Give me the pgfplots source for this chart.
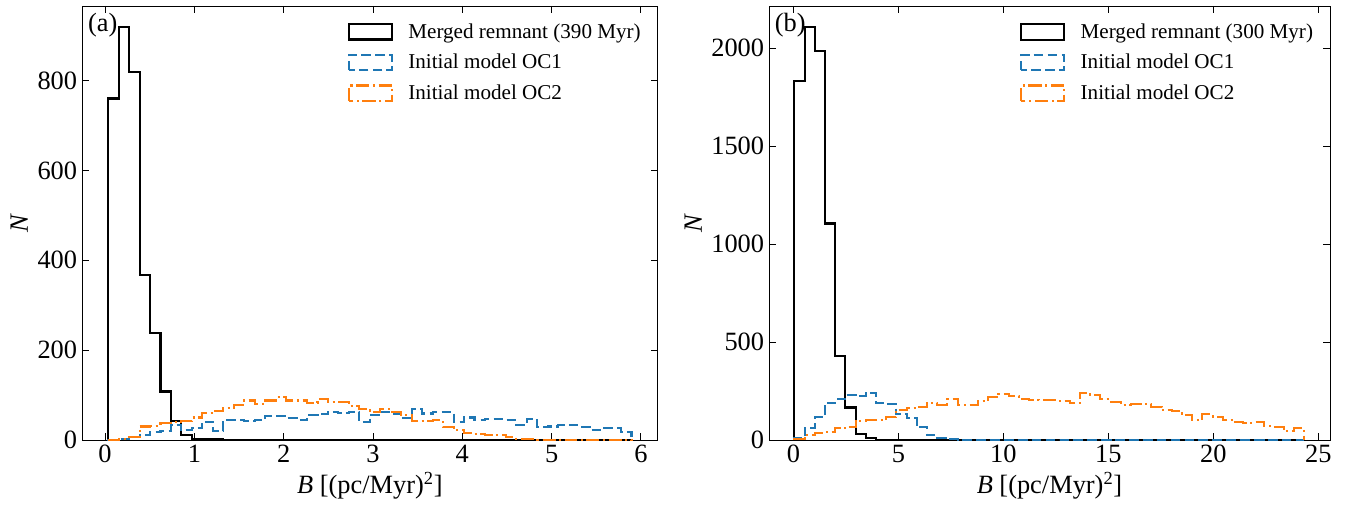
\documentclass[border=0pt]{standalone}
\usepackage{fontspec}
\setmainfont{Liberation Serif}
\usepackage{pgfplots}
\usepackage{pgfplotstable}
\pgfplotsset{compat=1.18}
\definecolor{tabblue}{HTML}{1F77B4}
\definecolor{taborange}{HTML}{FF7F0E}

\pgfplotstableread{
x black blue orange
0.035 0 0 0
0.035 760 1 0
0.152 920 3 2
0.269 820 7 7
0.387 367 11 30
0.504 238 18 32
0.621 108 20 38
0.738 43 33 40
0.855 11 22 43
0.973 2 26 50
1.090 3 41 60
1.207 3 20 64
1.324 0 44 72
1.441 1 44 78
1.559 0 42 88
1.676 0 44 80
1.793 1 53 88
1.910 0 53 95
2.027 0 48 88
2.145 0 44 88
2.262 0 56 83
2.379 0 58 92
2.496 0 63 85
2.613 0 61 85
2.731 0 63 75
2.848 0 41 70
2.965 0 56 63
3.082 0 63 68
3.199 0 59 63
3.317 0 48 56
3.434 0 69 43
3.551 0 59 43
3.668 0 63 44
3.785 0 63 28
3.903 0 41 22
4.020 0 50 15
4.137 0 44 13
4.254 0 46 12
4.371 0 46 11
4.489 0 44 6
4.606 0 33 3
4.723 0 46 2
4.840 0 28 1
4.957 0 30 1
5.075 0 33 0
5.192 0 33 1
5.309 0 29 0
5.426 0 22 0
5.543 0 27 0
5.661 0 27 0
5.778 0 18 1
5.895 0 18 1
5.895 0 0 0
}\tabA

\pgfplotstableread{
x black blue orange
0.050 0 0 0
0.050 1830 10 3
0.536 2110 60 26
1.021 1983 116 37
1.507 1105 187 40
1.992 427 208 60
2.478 166 230 68
2.964 31 225 99
3.449 12 240 102
3.935 2 190 100
4.420 0 185 116
4.906 0 133 153
5.392 0 110 162
5.877 0 65 170
6.363 0 26 187
6.848 0 12 180
7.334 0 3 208
7.820 0 1 180
8.305 0 0 180
8.791 0 0 199
9.276 0 0 218
9.762 0 0 235
10.248 0 0 225
10.733 0 0 208
11.219 0 0 205
11.704 0 0 204
12.190 0 0 204
12.676 0 0 200
13.161 0 0 187
13.647 0 0 241
14.132 0 0 230
14.618 0 0 208
15.104 0 0 195
15.589 0 0 179
16.075 0 0 183
16.560 0 0 183
17.046 0 0 170
17.532 0 0 153
18.017 0 0 150
18.503 0 0 128
18.988 0 0 102
19.474 0 0 131
19.960 0 0 119
20.445 0 0 102
20.931 0 0 90
21.416 0 0 88
21.902 0 0 90
22.388 0 0 73
22.873 0 0 68
23.359 0 0 46
23.844 0 0 60
24.330 0 0 60
24.330 0 0 0
}\tabB

\pgfplotsset{
  histax/.style={
    scale only axis, anchor=south west,
    height=312.5pt, ymin=0,
    tick align=inside, tick pos=both,
    major tick length=5pt,
    tick style={black, line width=0.6pt},
    axis line style={line width=0.6pt},
    /pgf/number format/assume math mode=true,
    /pgf/number format/1000 sep={},
    scaled ticks=false,
    minor tick num=0,
    tick label style={font=\fontsize{19}{22}\selectfont},
    label style={font=\fontsize{19}{22}\selectfont},
    xlabel={\textit{B} [(pc/Myr)\textsuperscript{2}]},
    ylabel={\textit{N}},
    legend cell align=left,
    legend style={draw=none, fill=none, at={(1,1)}, anchor=north east,
      xshift=-8pt, yshift=-8.5pt, font=\fontsize{15.2}{18}\selectfont,
      row sep=6pt, inner sep=2pt,
      /tikz/every odd column/.append style={column sep=9pt}},
    legend image code/.code={\draw[##1, line width=1.6pt] (0pt,-5.5pt) rectangle (31pt,5.5pt);},
  },
  blk/.style={black, line width=1.5pt},
  blu/.style={tabblue, line width=1.5pt, dash pattern=on 7pt off 3pt},
  org/.style={taborange, line width=1.5pt, dash pattern=on 9.5pt off 2.6pt on 1.5pt off 2.6pt},
}

\begin{document}
\begin{tikzpicture}
\path[use as bounding box] (0,0) rectangle (973.44pt,364.32pt);
\begin{axis}[histax, at={(59.04pt,47.52pt)}, width=414.5pt,
  xmin=-0.258, xmax=6.188, ymax=966,
  xtick={0,1,2,3,4,5,6}, ytick={0,200,400,600,800}]
\addplot[blk, const plot mark left] table[x=x,y=black]{\tabA};
\addlegendentry{Merged remnant (390 Myr)}
\addplot[blu, const plot mark left] table[x=x,y=blue]{\tabA};
\addlegendentry{Initial model OC1}
\addplot[org, const plot mark left] table[x=x,y=orange]{\tabA};
\addlegendentry{Initial model OC2}
\node[anchor=north west, inner sep=0pt, font=\fontsize{19}{22}\selectfont] at (rel axis cs:0.01,0.985) {(a)};
\end{axis}
\begin{axis}[histax, at={(553.68pt,47.52pt)}, width=403.9pt,
  xmin=-1.16, xmax=25.55, ymax=2215,
  xtick={0,5,10,15,20,25}, ytick={0,500,1000,1500,2000}]
\addplot[blk, const plot mark left] table[x=x,y=black]{\tabB};
\addlegendentry{Merged remnant (300 Myr)}
\addplot[blu, const plot mark left] table[x=x,y=blue]{\tabB};
\addlegendentry{Initial model OC1}
\addplot[org, const plot mark left] table[x=x,y=orange]{\tabB};
\addlegendentry{Initial model OC2}
\node[anchor=north west, inner sep=0pt, font=\fontsize{19}{22}\selectfont] at (rel axis cs:0.01,0.985) {(b)};
\end{axis}
\end{tikzpicture}
\end{document}
